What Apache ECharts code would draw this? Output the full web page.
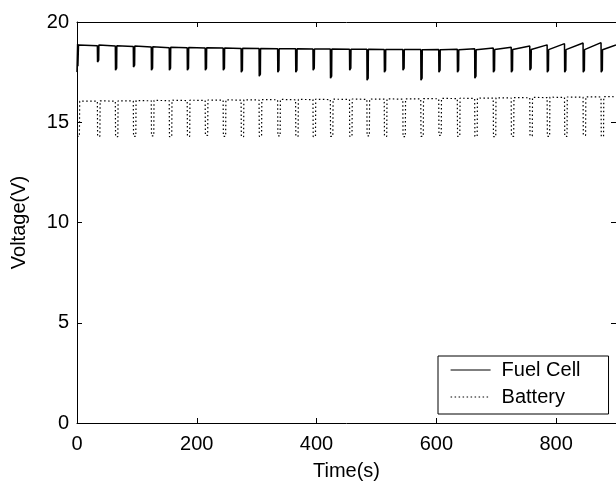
<!DOCTYPE html>
<html>
<head>
<meta charset="utf-8">
<script src="https://cdn.jsdelivr.net/npm/echarts@6/dist/echarts.min.js"></script>
<style>
    html, body { margin: 0; padding: 0; background: #fff; }
    #chart { width: 616px; height: 486px; }
</style>
</head>
<body>
<div id="chart"></div>
<script>
// pulse instants (s)
const dipTimes = [34, 64, 94, 124, 154, 184, 214, 244, 274, 304, 335, 365, 394, 423, 455,
    484, 513, 544, 574, 604, 635, 664, 695, 725, 756, 785, 814, 845, 875];

// fuel cell: level just before each dip, bottom of dip, level just after recovery
const fcBefore = [18.82, 18.80, 18.78, 18.75, 18.72, 18.72, 18.70, 18.70, 18.68, 18.68, 18.66, 18.66, 18.65, 18.65, 18.64,
    18.64, 18.63, 18.63, 18.63, 18.63, 18.64, 18.66, 18.70, 18.74, 18.80, 18.86, 18.92, 18.95, 18.97];
const fcDip = [18.0, 17.6, 17.75, 17.6, 17.6, 17.6, 17.6, 17.6, 17.5, 17.3, 17.5, 17.5, 17.6, 17.2, 17.6,
    17.1, 17.5, 17.6, 17.1, 17.5, 17.5, 17.2, 17.5, 17.5, 17.6, 17.5, 17.5, 17.5, 17.5];
const fcAfter = [18.85, 18.82, 18.80, 18.76, 18.74, 18.73, 18.71, 18.70, 18.69, 18.68, 18.67, 18.66, 18.65, 18.65, 18.64,
    18.64, 18.63, 18.63, 18.62, 18.62, 18.62, 18.62, 18.63, 18.63, 18.63, 18.62, 18.62, 18.62, 18.62];

// battery: level before each dip and bottom of dip
const batBefore = [16.05, 16.05, 16.06, 16.07, 16.08, 16.08, 16.09, 16.10, 16.10, 16.11, 16.12, 16.12, 16.13, 16.13, 16.14,
    16.14, 16.15, 16.15, 16.16, 16.17, 16.18, 16.19, 16.20, 16.21, 16.22, 16.23, 16.24, 16.25, 16.26];
const batDip = [14.30, 14.28, 14.30, 14.32, 14.28, 14.30, 14.35, 14.30, 14.28, 14.30, 14.32, 14.30, 14.28, 14.30, 14.30,
    14.32, 14.30, 14.28, 14.30, 14.35, 14.30, 14.30, 14.28, 14.30, 14.32, 14.30, 14.30, 14.35, 14.30];

// start-up and end of the record
const fcStart = [[0, 17.5], [1, 18.9], [1.5, 17.8], [2.5, 18.85]];
const fcEnd = [900, 18.85];
const batStart = [[0, 14.3], [4, 14.3], [4.5, 16.05]];
const batEnd = [900, 16.27];

const xTicks = { min: 0, max: 900, interval: 200 };
const yTicks = { min: 0, max: 20, interval: 5 };

function buildFuelCell() {
    const pts = fcStart.slice();
    dipTimes.forEach(function (t, i) {
        pts.push([t, fcBefore[i]]);
        pts.push([t + 0.3, fcDip[i]]);
        pts.push([t + 2.2, fcDip[i] + 0.1]);
        pts.push([t + 2.5, fcAfter[i]]);
    });
    pts.push(fcEnd);
    return pts;
}

function buildBattery() {
    const pts = batStart.slice();
    dipTimes.forEach(function (t, i) {
        pts.push([t, batBefore[i]]);
        pts.push([t + 0.4, batDip[i]]);
        pts.push([t + 4.2, batDip[i]]);
        pts.push([t + 4.6, batBefore[i] + 0.02]);
    });
    pts.push(batEnd);
    return pts;
}

const font = 'Liberation Sans, Arial, Helvetica, sans-serif';

const chart = echarts.init(document.getElementById('chart'), null, { renderer: 'canvas' });

const axisCommon = {
    axisLine: { show: true, onZero: false, lineStyle: { color: '#000', width: 1 } },
    axisTick: { show: true, inside: true, length: 5, lineStyle: { color: '#000', width: 1 } },
    splitLine: { show: false }
};

const option = {
    animation: false,
    backgroundColor: '#fff',
    grid: { left: 77, top: 22, width: 542, height: 402 },
    legend: {
        left: 438,
        top: 356,
        orient: 'vertical',
        itemWidth: 40,
        itemHeight: 20,
        itemGap: 7,
        padding: [4, 28, 7, 12],
        backgroundColor: '#fff',
        borderColor: '#000',
        borderWidth: 1,
        borderRadius: 0,
        itemStyle: { color: 'transparent', borderColor: 'transparent', borderWidth: 0 },
        lineStyle: { width: 1.2 },
        textStyle: { fontFamily: font, fontSize: 20, color: '#000', padding: [0, 0, 0, 6] },
        data: ['Fuel Cell', 'Battery']
    },
    xAxis: [
        Object.assign({}, axisCommon, {
            type: 'value',
            position: 'bottom',
            min: xTicks.min, max: xTicks.max, interval: xTicks.interval,
            name: 'Time(s)',
            nameLocation: 'middle',
            nameGap: 38,
            nameTextStyle: { fontFamily: font, fontSize: 20, color: '#000' },
            axisLabel: { fontFamily: font, fontSize: 20, color: '#000', margin: 11, showMaxLabel: false }
        }),
        Object.assign({}, axisCommon, {
            type: 'value',
            position: 'top',
            min: xTicks.min, max: xTicks.max, interval: xTicks.interval,
            axisLabel: { show: false }
        })
    ],
    yAxis: [
        Object.assign({}, axisCommon, {
            type: 'value',
            position: 'left',
            min: yTicks.min, max: yTicks.max, interval: yTicks.interval,
            name: 'Voltage(V)',
            nameLocation: 'middle',
            nameGap: 48,
            nameTextStyle: { fontFamily: font, fontSize: 20, color: '#000' },
            axisLabel: { fontFamily: font, fontSize: 20, color: '#000', margin: 8 }
        }),
        Object.assign({}, axisCommon, {
            type: 'value',
            position: 'right',
            min: yTicks.min, max: yTicks.max, interval: yTicks.interval,
            axisLabel: { show: false }
        })
    ],
    series: [
        {
            name: 'Fuel Cell',
            type: 'line',
            xAxisIndex: 0,
            yAxisIndex: 0,
            showSymbol: false,
            symbol: 'none',
            color: '#000',
            lineStyle: { color: '#000', width: 1.5, type: 'solid' },
            data: buildFuelCell()
        },
        {
            name: 'Battery',
            type: 'line',
            xAxisIndex: 0,
            yAxisIndex: 0,
            showSymbol: false,
            symbol: 'none',
            color: '#000',
            lineStyle: { color: '#000', width: 1.2, type: [1.5, 2.5] },
            data: buildBattery()
        }
    ]
};

chart.setOption(option);
window.addEventListener('resize', function () {
    chart.resize();
});
</script>
</body>
</html>
